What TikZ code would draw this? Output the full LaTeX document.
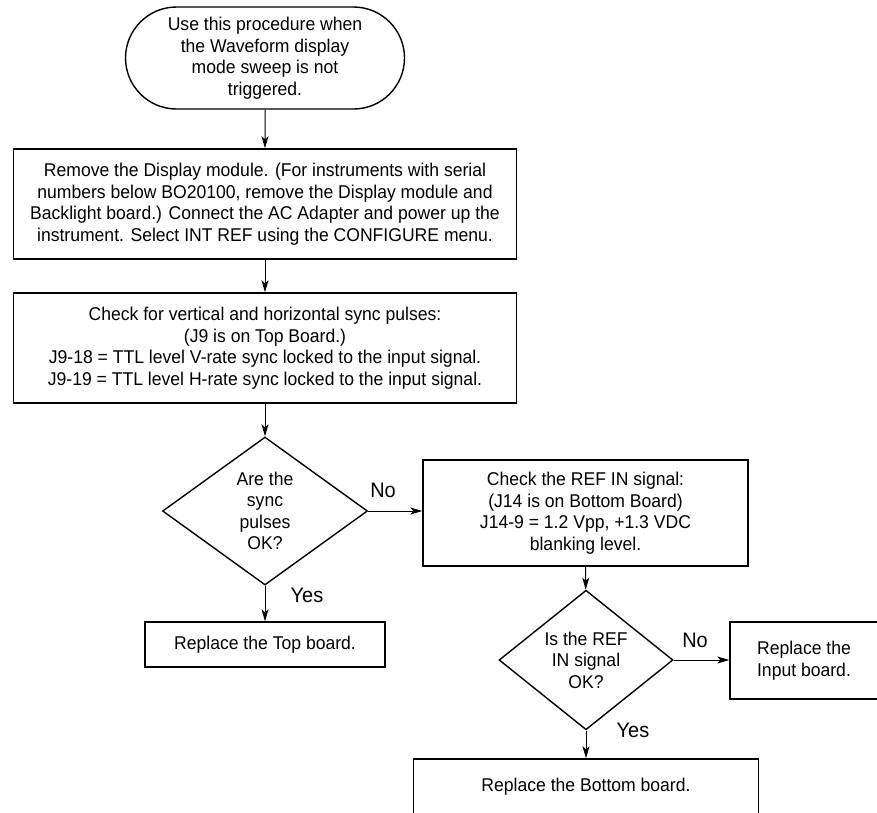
\documentclass[tikz,border=0pt]{standalone}
\usepackage{fontspec}
\setmainfont{Liberation Sans}[FakeStretch=0.95]
\usetikzlibrary{arrows.meta,positioning,calc,shapes.geometric,shapes.misc}

\begin{document}
\begin{tikzpicture}[x=1pt,y=-1pt,>={Stealth[length=12pt,width=7pt,inset=3pt]},
  font=\fontsize{18.5}{21.5}\selectfont,
  box/.style={draw,line width=1.4pt,align=center,inner sep=0pt},
  term/.style={draw,line width=1.4pt,rounded rectangle,align=center,inner sep=0pt,minimum width=279pt,minimum height=102pt},
  dec/.style={draw,line width=1.4pt,diamond,align=center,inner sep=0pt},
  lbl/.style={font=\fontsize{21}{24}\selectfont,inner sep=0pt},
  flow/.style={->,line width=1pt}]
  \useasboundingbox (0,0) rectangle (877,812);
  \node[term] (start) at (265,58) {Use this procedure when\\the Waveform display\\mode sweep is not\\triggered.};
  \node[box,minimum width=503pt,minimum height=110pt] (remove) at (265,204) {Remove the Display module. (For instruments with serial\\numbers below BO20100, remove the Display module and\\Backlight board.) Connect the AC Adapter and power up the\\instrument. Select INT REF using the CONFIGURE menu.};
  \node[box,minimum width=503pt,minimum height=110pt] (check) at (265,348) {Check for vertical and horizontal sync pulses:\\(J9 is on Top Board.)\\J9-18 = TTL level V-rate sync locked to the input signal.\\J9-19 = TTL level H-rate sync locked to the input signal.};
  \node[dec,minimum width=205pt,minimum height=148pt] (sync) at (265,511) {Are the\\sync\\pulses\\OK?};
  \node[box,minimum width=325pt,minimum height=106pt] (refin) at (585.5,513) {Check the REF IN signal:\\(J14 is on Bottom Board)\\J14-9 = 1.2 Vpp, +1.3 VDC\\blanking level.};
  \node[box,minimum width=240pt,minimum height=45pt] (top) at (265,644.5) {Replace the Top board.};
  \node[dec,minimum width=174pt,minimum height=126pt] (refok) at (586,660) {Is the REF\\IN signal\\OK?};
  \node[box,minimum width=148pt,minimum height=77pt] (input) at (804,660.5) {Replace the\\Input board.};
  \node[box,minimum width=345pt,minimum height=56pt] (bottom) at (586,787) {Replace the Bottom board.};
  % branch labels
  \node[lbl] (no1) at (383,490) {No};
  \node[lbl] (yes1) at (307,595) {Yes};
  \node[lbl] (no2) at (695,640) {No};
  \node[lbl] (yes2) at (633,730) {Yes};
  % connectors
  \draw[flow] (start) -- (remove);
  \draw[flow] (remove) -- (check);
  \draw[flow] (check) -- (sync);
  \draw[flow] (sync.east) -- (sync.east -| refin.west);
  \draw[flow] (sync) -- (top);
  \draw[flow] (refin) -- (refok);
  \draw[flow] (refok.east) -- (refok.east -| input.west);
  \draw[flow] (refok) -- (bottom);
\end{tikzpicture}
\end{document}
